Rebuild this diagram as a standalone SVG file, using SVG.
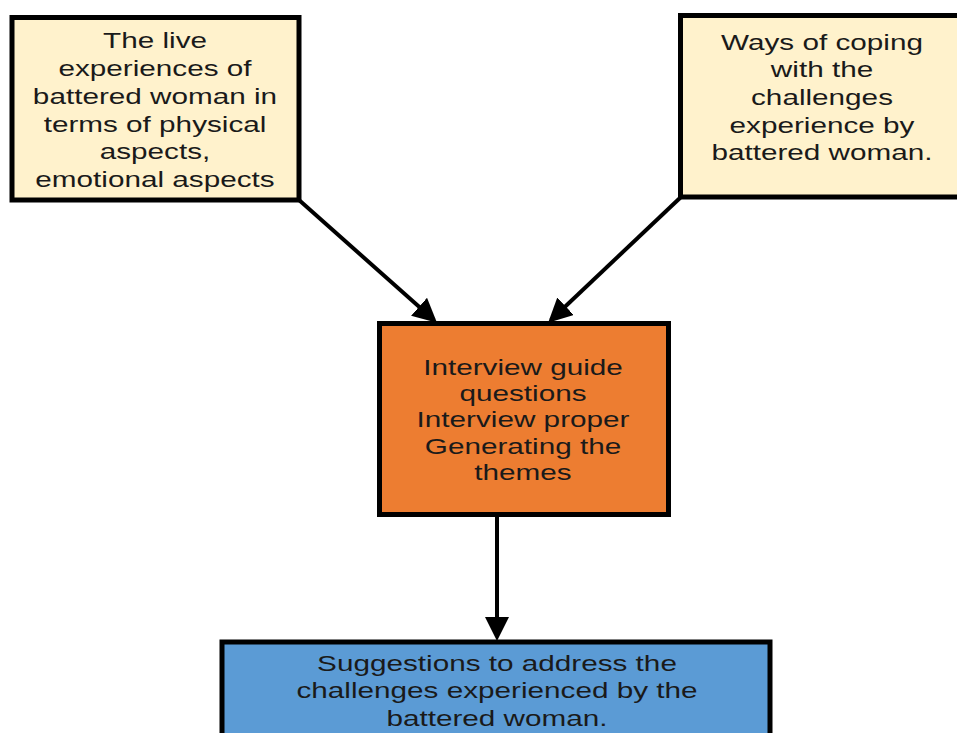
<svg xmlns="http://www.w3.org/2000/svg" width="957" height="733" viewBox="0 0 957 733">
<defs>
<style>
.box{stroke:#000;stroke-width:5}
.t{font-family:"Liberation Sans",Arial,sans-serif;font-size:22px;fill:#1a1a1a;text-anchor:middle}
.c{stroke:#000;stroke-width:4;fill:none}
</style>
<marker id="ah" markerWidth="6" markerHeight="6" refX="5" refY="3" orient="auto" markerUnits="strokeWidth">
<path d="M0,0 L6,3 L0,6 Z" fill="#000"/>
</marker>
</defs>
<rect width="957" height="733" fill="#fff"/>
<g id="connectors">
<line class="c" x1="299" y1="200" x2="434" y2="320" marker-end="url(#ah)"/>
<line class="c" x1="681" y1="197" x2="551" y2="320" marker-end="url(#ah)"/>
<line class="c" x1="497" y1="517" x2="497" y2="637" marker-end="url(#ah)"/>
</g>
<g id="node1">
<rect class="box" x="12" y="17.5" width="287" height="182.5" fill="#FFF2CC"/>
<g transform="translate(155 0) scale(1.35 1)">
<text class="t" x="0" y="48">The live</text>
<text class="t" x="0" y="76">experiences of</text>
<text class="t" x="0" y="104">battered woman in</text>
<text class="t" x="0" y="132">terms of physical</text>
<text class="t" x="0" y="159">aspects,</text>
<text class="t" x="0" y="187">emotional aspects</text>
</g>
</g>
<g id="node2">
<rect class="box" x="680.5" y="15.5" width="290" height="181.5" fill="#FFF2CC"/>
<g transform="translate(822 0) scale(1.35 1)">
<text class="t" x="0" y="50">Ways of coping</text>
<text class="t" x="0" y="77">with the</text>
<text class="t" x="0" y="105">challenges</text>
<text class="t" x="0" y="133">experience by</text>
<text class="t" x="0" y="160">battered woman.</text>
</g>
</g>
<g id="node3">
<rect class="box" x="379.5" y="323.5" width="289" height="191" fill="#ED7D31"/>
<g transform="translate(523 0) scale(1.35 1)">
<text class="t" x="0" y="375">Interview guide</text>
<text class="t" x="0" y="401">questions</text>
<text class="t" x="0" y="427">Interview proper</text>
<text class="t" x="0" y="454">Generating the</text>
<text class="t" x="0" y="480">themes</text>
</g>
</g>
<g id="node4">
<rect class="box" x="222" y="642" width="548" height="100" fill="#5B9BD5"/>
<g transform="translate(497 0) scale(1.35 1)">
<text class="t" x="0" y="671">Suggestions to address the</text>
<text class="t" x="0" y="698">challenges experienced by the</text>
<text class="t" x="0" y="726">battered woman.</text>
</g>
</g>
</svg>
